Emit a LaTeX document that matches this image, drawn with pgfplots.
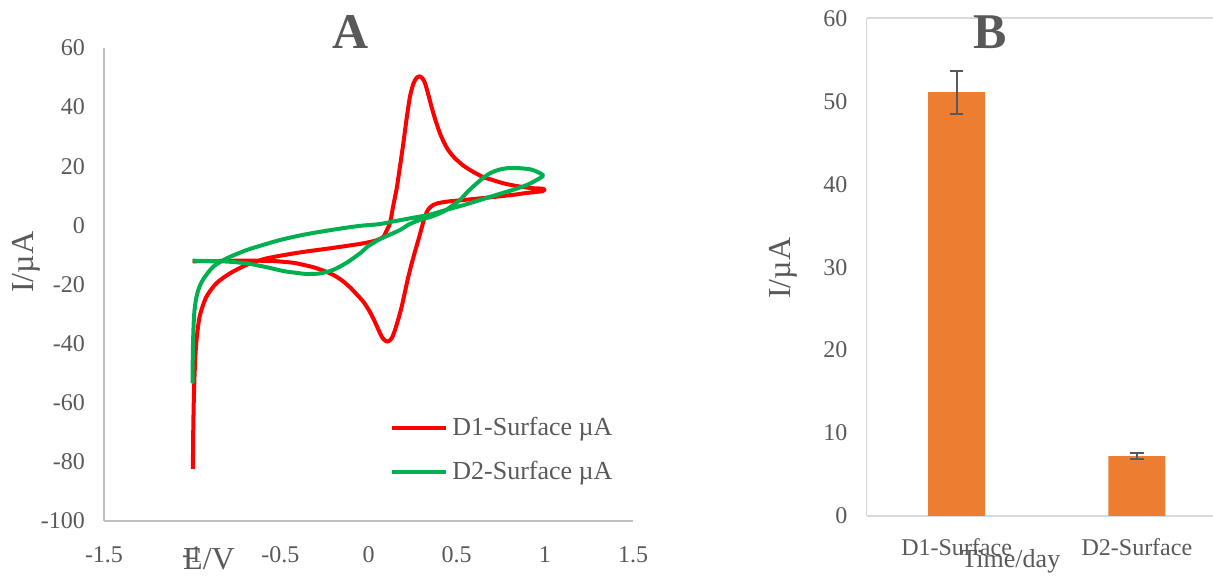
\documentclass[border=0pt]{standalone}
\usepackage{fontspec}
\setmainfont{Liberation Serif}
\usepackage{pgfplots}
\pgfplotsset{compat=1.18}
\definecolor{txt}{HTML}{595959}
\definecolor{axA}{HTML}{BFBFBF}
\definecolor{axB}{HTML}{D9D9D9}
\definecolor{cvred}{HTML}{FF0000}
\definecolor{cvgreen}{HTML}{00B050}
\definecolor{barorange}{HTML}{ED7D31}
\begin{document}
\begin{tikzpicture}
\path[use as bounding box] (0pt,0pt) rectangle (606.5pt,288pt);
% ---------------- Panel A ----------------
\begin{axis}[
  scale only axis, width=264.5pt, height=236.35pt,
  at={(52pt,27.65pt)}, anchor=south west,
  xmin=-1.5, xmax=1.5, ymin=-100, ymax=60,
  axis lines=left, axis line style={-, draw=axA, line width=0.9pt},
  clip=false,
  major tick length=0pt,
  xtick={-1.5,-1,-0.5,0,0.5,1,1.5},
  xticklabels={-1.5,-1,-0.5,0,0.5,1,1.5},
  ytick={-100,-80,-60,-40,-20,0,20,40,60},
  yticklabels={-100,-80,-60,-40,-20,0,20,40,60},
  every tick label/.append style={font=\fontsize{12}{13}\selectfont, text=txt},
  xticklabel style={yshift=-9.3pt},
  yticklabel style={xshift=-6pt},
  legend style={at={(axis description cs:0.5406,0.150)}, anchor=west,
    draw=none, fill=none, inner sep=0pt,
    font=\fontsize{13}{15}\selectfont, text=txt, row sep=7.5pt,
    /tikz/every odd column/.append style={column sep=0pt}},
  legend cell align=left,
  legend image code/.code={\draw[#1] (0pt,0pt) -- (27pt,0pt);},
]
\addplot[cvred, line width=2pt, smooth, tension=0.45, line join=round] coordinates {
(-0.996,-82.5) (-0.994,-70) (-0.991,-60) (-0.986,-50) (-0.977,-40) (-0.958,-31)
(-0.92,-24.3) (-0.862,-19.6) (-0.786,-16.3) (-0.691,-13.4) (-0.577,-11.2)
(-0.389,-9.2) (-0.218,-7.8) (-0.048,-6.3) (0.04,-5.2) (0.084,-3.9) (0.105,-1.5)
(0.122,0.7) (0.14,6.5) (0.16,12.5) (0.18,20.5) (0.197,27.5) (0.216,36)
(0.235,43.5) (0.255,48) (0.273,49.9) (0.29,50.4) (0.305,49.8) (0.32,48.2)
(0.338,44.5) (0.358,40) (0.38,35.5) (0.406,31) (0.43,27.8) (0.455,25.2)
(0.49,22.7) (0.538,20.2) (0.59,18.2) (0.651,16.3) (0.71,15.2) (0.765,14.2)
(0.82,13.5) (0.878,12.9) (0.94,12.5) (0.985,12.4) (0.998,12.0)
(0.985,11.5) (0.954,11.3) (0.88,10.8) (0.821,10.3) (0.73,9.7) (0.632,9.1)
(0.53,8.5) (0.444,8.0) (0.39,7.4) (0.368,6.9) (0.345,5.8) (0.33,4.4) (0.315,2.0)
(0.302,-0.8) (0.285,-4.5) (0.268,-8.0) (0.247,-12.5) (0.226,-17.4) (0.207,-22.5)
(0.188,-27.6) (0.169,-31.8) (0.150,-35.5) (0.134,-38.0) (0.118,-39.1)
(0.104,-39.4) (0.09,-38.8) (0.075,-37.7) (0.05,-34.5) (0.027,-31.5) (0.0,-28.5)
(-0.029,-25.9) (-0.065,-23.5) (-0.105,-21.0) (-0.15,-18.7) (-0.2,-16.8)
(-0.25,-15.5) (-0.313,-14.2) (-0.37,-13.4) (-0.427,-12.7) (-0.54,-12.1)
(-0.65,-12.0) (-0.75,-12.0) (-0.85,-12.1) (-0.997,-12.2)
};
\addlegendentry{D1-Surface µA}
\addplot[cvgreen, line width=2pt, smooth, tension=0.45, line join=round] coordinates {
(-0.998,-53.5) (-0.997,-47) (-0.995,-40) (-0.992,-34) (-0.987,-29) (-0.978,-25)
(-0.965,-21.9) (-0.947,-19.3) (-0.927,-17.4) (-0.88,-14.0) (-0.804,-11.2)
(-0.691,-8.4) (-0.6,-6.7) (-0.502,-5.0) (-0.4,-3.6) (-0.313,-2.6) (-0.2,-1.5)
(-0.1,-0.6) (-0.048,-0.2) (0.009,0.1) (0.065,0.4) (0.16,1.5) (0.25,2.5)
(0.349,3.6) (0.44,5.2) (0.538,6.8) (0.63,8.5) (0.727,10.3) (0.82,12.0)
(0.897,13.6) (0.95,15.2) (0.99,16.8)
(0.96,18.0) (0.92,18.9) (0.859,19.3) (0.784,19.3) (0.735,18.7) (0.689,17.6)
(0.65,16.0) (0.614,14.2) (0.565,11.5) (0.519,8.6) (0.47,6.4) (0.424,4.6)
(0.36,3.0) (0.292,1.8) (0.23,0.3) (0.179,-1.6) (0.12,-3.2) (0.065,-4.7)
(0.0,-7.0) (-0.048,-9.5) (-0.124,-12.7) (-0.2,-15.1) (-0.275,-16.3)
(-0.351,-16.5) (-0.41,-16.1) (-0.464,-15.7) (-0.52,-15.0) (-0.577,-14.2)
(-0.691,-12.9) (-0.8,-12.3) (-0.9,-12.1) (-0.997,-12.0)
};
\addlegendentry{D2-Surface µA}
\node[font=\fontsize{25}{28}\selectfont\bfseries, text=txt, anchor=center]
  at (axis description cs:0.467,1.033) {A};
\node[font=\fontsize{16}{18}\selectfont, text=txt, anchor=center]
  at (axis description cs:0.1985,-0.081) {E/V};
\node[font=\fontsize{16}{18}\selectfont, text=txt, anchor=center, rotate=90]
  at (axis description cs:-0.1474,0.547) {I/µA};
\end{axis}
% ---------------- Panel B ----------------
\begin{axis}[
  scale only axis, width=173.25pt, height=248.85pt,
  at={(433.25pt,30pt)}, anchor=south west,
  xmin=-0.5, xmax=1.4223, ymin=0, ymax=60,
  axis lines=left, axis line style={-, draw=axB, line width=0.9pt},
  clip=false,
  major tick length=0pt,
  ybar, bar width=28.5pt,
  xtick={0,1}, xticklabels={D1-Surface,D2-Surface},
  ytick={0,10,20,30,40,50},
  yticklabels={0,10,20,30,40,50},
  extra y ticks={60}, extra y tick labels={60},
  extra y tick style={ymajorgrids=true, major grid style={draw=axB, line width=0.9pt}},
  every tick label/.append style={font=\fontsize{12}{13}\selectfont, text=txt},
  xticklabel style={yshift=-8pt, font=\fontsize{12}{13}\selectfont},
  yticklabel style={xshift=-6pt},
]
\addplot[fill=barorange, draw=none,
  error bars/.cd, y dir=both, y explicit,
  error bar style={draw=txt, line width=1pt},
  error mark options={rotate=90, mark size=3.4pt, draw=txt, line width=1pt}]
  coordinates {(0,51.1) +- (0,2.6) (1,7.23) +- (0,0.37)};
\node[font=\fontsize{25}{28}\selectfont\bfseries, text=txt, anchor=center]
  at (axis description cs:0.358,0.9715) {B};
\node[font=\fontsize{13}{15}\selectfont, text=txt, anchor=center]
  at (axis description cs:0.4166,-0.0918) {Time/day};
\node[font=\fontsize{16}{18}\selectfont, text=txt, anchor=center, rotate=90]
  at (axis description cs:-0.24,0.498) {I/µA};
\end{axis}
\end{tikzpicture}
\end{document}
